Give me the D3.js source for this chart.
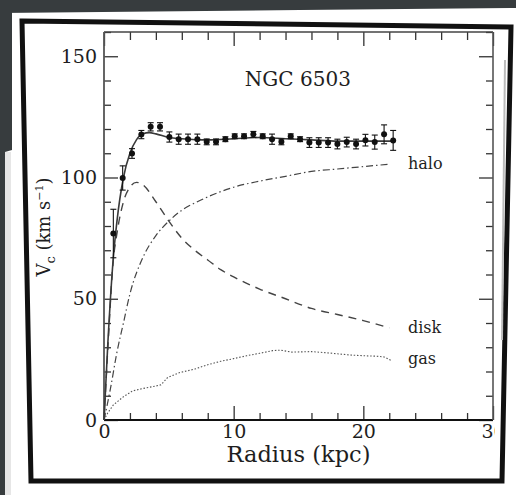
<!DOCTYPE html>
<html><head><meta charset="utf-8">
<script src="https://cdn.jsdelivr.net/npm/d3@7"></script>
<style>
html,body{margin:0;padding:0;background:#fff;}
svg{display:block;}
text{font-family:"DejaVu Serif",serif;fill:#1e1e1e;}
</style></head>
<body>
<script>
// ---- data ----
const obsR = [0.72,1.44,2.16,2.88,3.6,4.32,5.04,5.76,6.48,7.2,7.92,8.64,9.36,10.08,10.8,11.52,12.24,12.96,13.68,14.4,15.12,15.84,16.56,17.28,18.0,18.72,19.44,20.16,20.88,21.6,22.3];
const obsV = [76.9,99.8,109.9,117.7,120.9,120.9,116.7,115.8,115.8,115.8,114.7,114.7,115.8,117.0,117.0,117.8,117.0,115.8,114.7,117.0,115.8,114.4,114.4,114.4,113.8,114.6,113.8,115.4,114.6,117.8,115.3];
const obsErr = [10,5,2,1.7,1.7,1.7,2.1,2.1,2.1,2.1,1.2,1.2,1,1,1,1.2,1,2.1,1.2,1,1,2,2,2,2,2,2,2.4,2.9,3.9,4.1];

const fitR = [0,0.3,0.72,1.0,1.5,2.0,2.5,3.0,3.5,4.0,5.0,6.0,8.0,10.0,12.0,14.0,16.0,18.0,20.0,22.2];
const fitV = [0,32,67,82,100,110,115.5,118,118.5,118,116.5,116,115.5,116,116.5,116,115.5,115,115,115];

const diskR = [0,0.3,0.72,1.0,1.5,2.0,2.5,3.0,4.0,5.0,6.0,7.0,8.0,9.0,10.0,12.0,14.0,16.0,18.0,20.0,22.0];
const diskV = [0,30,66,77,90,96,98,97,90,82,75,70,66,62,59,54,50,46,43.5,41,38];

const haloR = [0,0.5,1,1.5,2,3,4,5,6,7,8,10,12,14,16,18,20,22];
const haloV = [0,13,28,40,52,67,76,82,86.5,89.5,92,96,98.5,100.5,102.5,103.5,104.5,105.5];

const gasR = [0,0.3,0.72,1.5,2.2,3.0,3.8,4.4,4.9,5.8,7.0,8.0,9.0,10.0,11.0,12.0,13.0,13.6,14.5,16.0,17.0,18.0,19.0,20.0,21.0,21.6,22.2];
const gasV = [0,3,6.2,9.6,12,13,13.8,14.5,17.5,19.5,21,22.8,24.2,25.3,26.5,27.5,28.6,28.8,28,28.2,27.8,27.3,26.8,26.5,26.3,26,24.4];

const xMajor = [0,10,20,30];
const xMinor = [2,4,6,8,12,14,16,18,22,24,26,28];
const yMajor = [0,50,100,150];
const yMinor = [10,20,30,40,60,70,80,90,110,120,130,140,160];

const title = "NGC 6503";
const xLabel = "Radius (kpc)";
const componentLabels = [{name:"halo", v:105.5}, {name:"disk", v:38}, {name:"gas", v:24.4}];

// ---- drawing ----
const W = 516, H = 495;
const svg = d3.select("body").append("svg").attr("width", W).attr("height", H);

// photo surroundings
svg.append("rect").attr("x",0).attr("y",0).attr("width",W).attr("height",H).attr("fill","#ffffff");
svg.append("path").attr("d","M0,0 L516,0 L516,8 L300,10 L0,13 Z").attr("fill","#373c3e");
svg.append("path").attr("d","M0,0 L12,0 L12,150 L5,152 L5,495 L0,495 Z").attr("fill","#373c3e");
svg.append("rect").attr("x",5).attr("y",152).attr("width",6).attr("height",343).attr("fill","#e6e6e6");

const m = {left:104, top:32, right:493, bottom:420};
const x = d3.scaleLinear().domain([0,30]).range([m.left, m.right]);
const y = d3.scaleLinear().domain([0,160]).range([m.bottom, m.top]);

const g = svg.append("g");

function styleAxis(sel){
  sel.select(".domain").remove();
  sel.selectAll(".tick line").attr("stroke","#333").attr("stroke-width",1.3);
  sel.selectAll(".tick text").attr("fill","#1e1e1e").style("font-family","DejaVu Serif, serif").style("font-size","19px");
}

// bottom
g.append("g").attr("transform",`translate(0,${m.bottom})`)
  .call(d3.axisBottom(x).tickValues(xMinor).tickSize(-7).tickFormat("")).call(styleAxis);
g.append("g").attr("transform",`translate(0,${m.bottom})`)
  .call(d3.axisBottom(x).tickValues(xMajor).tickSize(-14).tickPadding(5).tickFormat(d3.format("d"))).call(styleAxis);
// top
g.append("g").attr("transform",`translate(0,${m.top})`)
  .call(d3.axisTop(x).tickValues(xMinor).tickSize(-8).tickFormat("")).call(styleAxis);
g.append("g").attr("transform",`translate(0,${m.top})`)
  .call(d3.axisTop(x).tickValues(xMajor).tickSize(-14).tickFormat("")).call(styleAxis);
// left
g.append("g").attr("transform",`translate(${m.left},0)`)
  .call(d3.axisLeft(y).tickValues(yMinor).tickSize(-7).tickFormat("")).call(styleAxis);
g.append("g").attr("transform",`translate(${m.left},0)`)
  .call(d3.axisLeft(y).tickValues(yMajor).tickSize(-14).tickPadding(7).tickFormat(d3.format("d"))).call(styleAxis);
// right
g.append("g").attr("transform",`translate(${m.right},0)`)
  .call(d3.axisRight(y).tickValues(yMinor).tickSize(-7).tickFormat("")).call(styleAxis);
g.append("g").attr("transform",`translate(${m.right},0)`)
  .call(d3.axisRight(y).tickValues(yMajor).tickSize(-14).tickFormat("")).call(styleAxis);

// frame
g.append("line").attr("x1",m.left).attr("x2",m.right).attr("y1",m.top).attr("y2",m.top).attr("stroke","#444").attr("stroke-width",1.4);
g.append("line").attr("x1",m.left).attr("x2",m.right).attr("y1",m.bottom).attr("y2",m.bottom).attr("stroke","#111").attr("stroke-width",2);
g.append("line").attr("x1",m.left).attr("x2",m.left).attr("y1",m.top).attr("y2",m.bottom).attr("stroke","#555").attr("stroke-width",1.8);
g.append("line").attr("x1",m.right).attr("x2",m.right).attr("y1",m.top).attr("y2",m.bottom).attr("stroke","#555").attr("stroke-width",1.6);

const line = d3.line().x(d=>x(d[0])).y(d=>y(d[1]));
const zip = (a,b)=>a.map((v,i)=>[v,b[i]]);

g.append("path").datum(zip(haloR,haloV)).attr("d",line.curve(d3.curveMonotoneX))
  .attr("fill","none").attr("stroke","#444").attr("stroke-width",1.2).attr("stroke-dasharray","7,3,1.5,3");
g.append("path").datum(zip(diskR,diskV)).attr("d",line.curve(d3.curveMonotoneX))
  .attr("fill","none").attr("stroke","#444").attr("stroke-width",1.4).attr("stroke-dasharray","8,6");
g.append("path").datum(zip(gasR,gasV)).attr("d",line.curve(d3.curveLinear))
  .attr("fill","none").attr("stroke","#555").attr("stroke-width",1.1).attr("stroke-dasharray","1.5,1.8");
g.append("path").datum(zip(fitR,fitV)).attr("d",line.curve(d3.curveMonotoneX))
  .attr("fill","none").attr("stroke","#3a3a3a").attr("stroke-width",1.6);

// error bars + points
const obs = obsR.map((r,i)=>({r, v:obsV[i], e:obsErr[i]}));
const eb = g.append("g").attr("stroke","#111").attr("stroke-width",1.1);
obs.forEach(d=>{
  eb.append("line").attr("x1",x(d.r)).attr("x2",x(d.r)).attr("y1",y(d.v-d.e)).attr("y2",y(d.v+d.e));
  eb.append("line").attr("x1",x(d.r)-3).attr("x2",x(d.r)+3).attr("y1",y(d.v-d.e)).attr("y2",y(d.v-d.e));
  eb.append("line").attr("x1",x(d.r)-3).attr("x2",x(d.r)+3).attr("y1",y(d.v+d.e)).attr("y2",y(d.v+d.e));
});
g.append("g").selectAll("circle").data(obs).join("circle")
  .attr("cx",d=>x(d.r)).attr("cy",d=>y(d.v)).attr("r",3).attr("fill","#111");

// labels
g.append("text").attr("x",x(14.95)).attr("y",86).attr("text-anchor","middle").style("font-size","20px").text(title);
g.append("text").attr("x",x(15)).attr("y",462).attr("text-anchor","middle").style("font-size","22.5px").text(xLabel);
const yl = g.append("text").attr("transform","translate(50,227) rotate(-90)").attr("text-anchor","middle").style("font-size","18px");
yl.append("tspan").text("V");
yl.append("tspan").attr("dy",5).style("font-size","13px").text("c");
yl.append("tspan").attr("dy",-5).text(" (km s");
yl.append("tspan").attr("dy",-7).style("font-size","11px").text("−1");
yl.append("tspan").attr("dy",7).text(")");

const labY = {halo:169, disk:333, gas:364};
componentLabels.forEach(c=>{
  g.append("text").attr("x",408).attr("y",labY[c.name]).style("font-size","16px").text(c.name);
});

// photo edge: paper strip and thick black mount border
svg.append("path").attr("d","M495,20 L516,20 L516,490 L495,490 Z").attr("fill","#fff");
svg.append("path").attr("d","M22,21 L511,27 L502,481 L31,481 Z").attr("fill","none").attr("stroke","#111").attr("stroke-width",5).attr("stroke-linejoin","miter");
svg.append("line").attr("x1",505).attr("x2",502).attr("y1",60).attr("y2",340).attr("stroke","#bbb").attr("stroke-width",2);
</script>
</body></html>
